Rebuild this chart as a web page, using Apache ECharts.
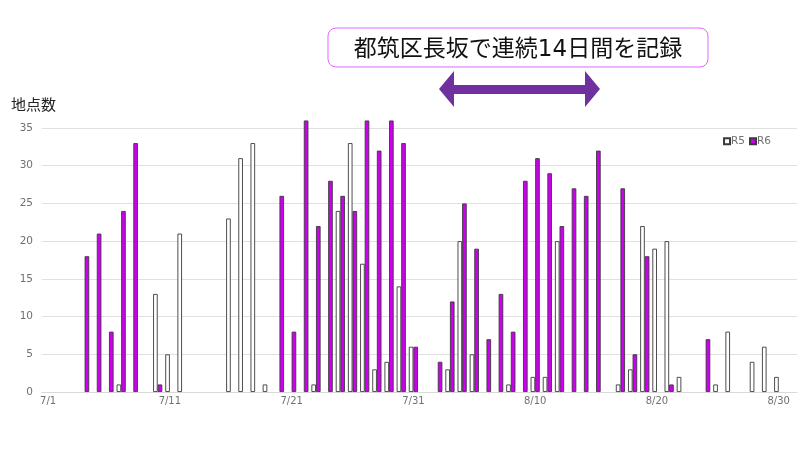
<!DOCTYPE html>
<html><head><meta charset="utf-8">
<style>html,body{margin:0;padding:0;background:#fff}#c{width:800px;height:450px}</style>
<script src="https://cdn.jsdelivr.net/npm/echarts@6/dist/echarts.min.js"></script></head>
<body><div id="c"></div>
<script>
const FONT = '"DejaVu Sans","Noto Sans CJK JP",sans-serif';
const julyDays = ['7/1','7/2','7/3','7/4','7/5','7/6','7/7','7/8','7/9','7/10','7/11','7/12','7/13','7/14','7/15','7/16','7/17','7/18','7/19','7/20','7/21','7/22','7/23','7/24','7/25','7/26','7/27','7/28','7/29','7/30','7/31'];
const augustDays = ['8/1','8/2','8/3','8/4','8/5','8/6','8/7','8/8','8/9','8/10','8/11','8/12','8/13','8/14','8/15','8/16','8/17','8/18','8/19','8/20','8/21','8/22','8/23','8/24','8/25','8/26','8/27','8/28','8/29','8/30','8/31'];
const categories = julyDays.concat(augustDays);
const r5July = [null,null,null,null,null,null,1,null,null,13,5,21,null,null,null,23,31,33,1,null,null,null,1,null,24,33,17,3,4,14,6];
const r6July = [null,null,null,18,21,8,24,33,null,1,null,null,null,null,null,null,null,null,null,26,8,36,22,28,26,24,36,32,36,33,6];
const r5August = [null,null,3,20,5,null,null,1,null,2,2,20,null,null,null,null,1,3,22,19,20,2,null,null,1,8,null,4,6,2,null];
const r6August = [null,4,12,25,19,7,13,8,28,31,29,22,27,26,32,null,27,5,18,null,1,null,null,7,null,null,null,null,null,null,null];
const r5 = r5July.concat(r5August);
const r6 = r6July.concat(r6August);
const titleText = '都筑区長坂で連続14日間を記録';
const yAxisName = '地点数';

const chart = echarts.init(document.getElementById('c'), null, {renderer:'canvas'});
const barStyle = (color) => ({
  type:'bar', barWidth:4.6, barGap:'0%', clip:false,
  itemStyle:{color:color, borderColor:'#3a3a3a', borderWidth:0.9}
});
chart.setOption({
  animation:false,
  backgroundColor:'#fff',
  grid:{left:42, right:3, top:128, bottom:58},
  legend:{
    data:['R5','R6'], top:131, right:24, itemWidth:6, itemHeight:6, itemGap:4,
    icon:'rect',
    textStyle:{color:'#707070', fontSize:10.5, fontFamily:FONT, padding:[0,0,0,-4]}
  },
  xAxis:{
    type:'category', data:categories,
    axisTick:{show:false},
    axisLine:{lineStyle:{color:'#d9d9d9', width:1.2}},
    axisLabel:{interval:9, color:'#707070', fontSize:10, fontFamily:FONT, margin:4}
  },
  yAxis:{
    type:'value', min:0, max:35, interval:5,
    axisLine:{show:false}, axisTick:{show:false},
    axisLabel:{color:'#707070', fontSize:10.5, fontFamily:FONT, margin:9, padding:[2,0,0,0]},
    splitLine:{lineStyle:{color:'#e0e0e0', width:1.2}}
  },
  series:[
    Object.assign({name:'R5', data:r5}, barStyle('#ffffff')),
    Object.assign({name:'R6', data:r6}, barStyle('#cc00ee'))
  ],
  graphic:[
    {type:'rect', shape:{x:328,y:28,width:380,height:39,r:8},
     style:{fill:'#fff', stroke:'#e066ff', lineWidth:1}},
    {type:'text', style:{x:518,y:50.5,text:titleText,fill:'#111',fontSize:23,fontFamily:FONT,align:'center',verticalAlign:'middle'}},
    {type:'polygon', shape:{points:[[439,89],[454,71],[454,85],[585,85],[585,71],[600,89],[585,107],[585,94],[454,94],[454,107]]},
     style:{fill:'#7030a0'}},
    {type:'text', style:{x:11,y:106,text:yAxisName,fill:'#222',fontSize:15,fontFamily:FONT,align:'left',verticalAlign:'middle'}}
  ]
});
</script></body></html>
